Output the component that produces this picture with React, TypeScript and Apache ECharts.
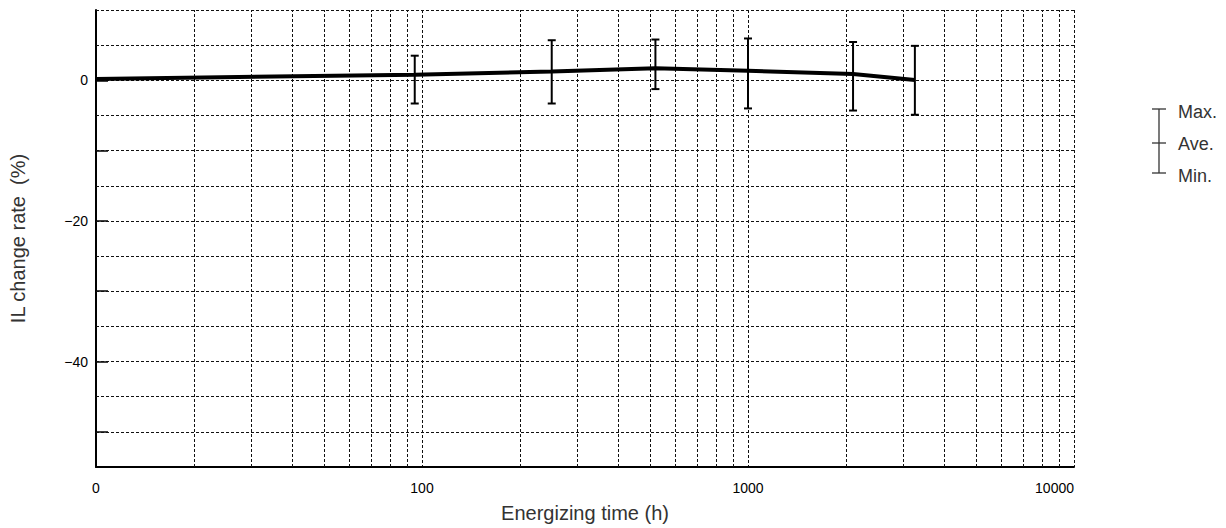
import React, { useEffect, useRef } from "react";
import * as echarts from "echarts";

// ---- data ----
const timeHours: number[] = [10, 95, 250, 520, 1000, 2100, 3250];
const aveRate: number[] = [0.2, 0.8, 1.25, 1.7, 1.35, 0.9, 0.05];
const maxRate: (number | null)[] = [null, 3.5, 5.7, 5.8, 5.95, 5.45, 4.9];
const minRate: (number | null)[] = [null, -3.3, -3.3, -1.25, -4.0, -4.3, -4.9];

const yLabelValues: number[] = [0, -20, -40];
const yTickValues: number[] = [0, -10, -20, -30, -40, -50];
const yGridValues: number[] = [10, 5, 0, -5, -10, -15, -20, -25, -30, -35, -40, -45, -50];
const minorGridX: number[] = [
  20, 30, 40, 50, 60, 70, 80, 90,
  200, 300, 400, 500, 600, 700, 800, 900,
  2000, 3000, 4000, 5000, 6000, 7000, 8000, 9000,
];
const legendLabels: string[] = ["Max.", "Ave.", "Min."];

const FONT = "'Liberation Sans', Arial, Helvetica, sans-serif";
const GRID_STYLE = { color: "#111", width: 1, type: [3, 2] as number[] };

export default function App() {
  const ref = useRef<HTMLDivElement>(null);

  useEffect(() => {
    if (!ref.current) return;
    const chart = echarts.init(ref.current, undefined, { renderer: "svg" });

    const lineData = timeHours.map((t, i) => [t, aveRate[i]]);
    const barData: number[][] = [];
    timeHours.forEach((t, i) => {
      const lo = minRate[i];
      const hi = maxRate[i];
      if (lo != null && hi != null) barData.push([t, lo, hi]);
    });

    const option: any = {
      animation: false,
      backgroundColor: "#fff",
      grid: { left: 96, right: 152, top: 10, bottom: 61, containLabel: false },
      xAxis: {
        type: "log",
        logBase: 10,
        min: 10,
        max: 10000,
        name: "Energizing time (h)",
        nameLocation: "middle",
        nameGap: 36,
        nameTextStyle: { fontSize: 20, color: "#333", fontFamily: FONT },
        axisLine: { show: true, onZero: false, lineStyle: { color: "#000", width: 2 } },
        axisTick: { show: false },
        axisLabel: {
          show: true,
          fontSize: 14,
          color: "#000",
          fontFamily: FONT,
          margin: 14,
          showMinLabel: true,
          showMaxLabel: true,
          alignMaxLabel: "right",
          formatter: (v: number) => (v === 10 ? "0" : String(Math.round(v))),
        },
        splitLine: { show: true, lineStyle: GRID_STYLE },
      },
      yAxis: {
        type: "value",
        min: -55,
        max: 10,
        interval: 5,
        name: "IL change rate  (%)",
        nameLocation: "middle",
        nameGap: 68,
        nameTextStyle: { fontSize: 20, color: "#333", fontFamily: FONT },
        axisLine: { show: true, lineStyle: { color: "#000", width: 2 } },
        axisTick: {
          show: true,
          inside: true,
          length: 12,
          customValues: yTickValues,
          lineStyle: { color: "#000", width: 1.5 },
        },
        axisLabel: {
          show: true,
          fontSize: 14,
          color: "#000",
          fontFamily: FONT,
          margin: 8,
          customValues: yLabelValues,
          formatter: (v: number) => (v === 0 ? "0" : (v < 0 ? "\u2212" : "") + Math.abs(v)),
        },
        splitLine: { show: false },
      },
      series: [
        {
          type: "line",
          data: [],
          silent: true,
          markLine: {
            silent: true,
            symbol: ["none", "none"],
            label: { show: false },
            lineStyle: GRID_STYLE,
            data: [
              ...minorGridX.map((x) => ({ xAxis: x })),
              ...yGridValues.map((y) => ({ yAxis: y })),
            ],
          },
        },
        {
          type: "line",
          data: lineData,
          symbol: "none",
          lineStyle: { color: "#000", width: 4 },
          z: 5,
        },
        {
          type: "custom",
          data: barData,
          z: 6,
          renderItem: (params: any, api: any) => {
            const x = api.value(0);
            const top = api.coord([x, api.value(2)]);
            const bot = api.coord([x, api.value(1)]);
            const hw = 4;
            const st = { stroke: "#000", lineWidth: 2 };
            return {
              type: "group",
              children: [
                { type: "line", shape: { x1: top[0], y1: top[1], x2: bot[0], y2: bot[1] }, style: st },
                { type: "line", shape: { x1: top[0] - hw, y1: top[1], x2: top[0] + hw, y2: top[1] }, style: st },
                { type: "line", shape: { x1: bot[0] - hw, y1: bot[1], x2: bot[0] + hw, y2: bot[1] }, style: st },
              ],
            };
          },
        },
      ],
      graphic: [
        { type: "line", shape: { x1: 1159, y1: 109, x2: 1159, y2: 173 }, style: { stroke: "#333", lineWidth: 1.3 } },
        { type: "line", shape: { x1: 1152, y1: 109, x2: 1166, y2: 109 }, style: { stroke: "#333", lineWidth: 1.3 } },
        { type: "line", shape: { x1: 1152, y1: 143, x2: 1166, y2: 143 }, style: { stroke: "#333", lineWidth: 1.3 } },
        { type: "line", shape: { x1: 1152, y1: 173, x2: 1166, y2: 173 }, style: { stroke: "#333", lineWidth: 1.3 } },
        ...legendLabels.map((t, i) => ({
          type: "text",
          x: 1178,
          y: [112, 144, 176][i],
          style: {
            text: t,
            fontSize: 18,
            fill: "#333",
            fontFamily: FONT,
            verticalAlign: "middle",
            align: "left",
          },
        })),
      ],
    };

    chart.setOption(option);
    return () => chart.dispose();
  }, []);

  return (
    <div
      ref={ref}
      style={{ position: "fixed", left: 0, top: 0, width: 1226, height: 528, background: "#fff" }}
    />
  );
}
